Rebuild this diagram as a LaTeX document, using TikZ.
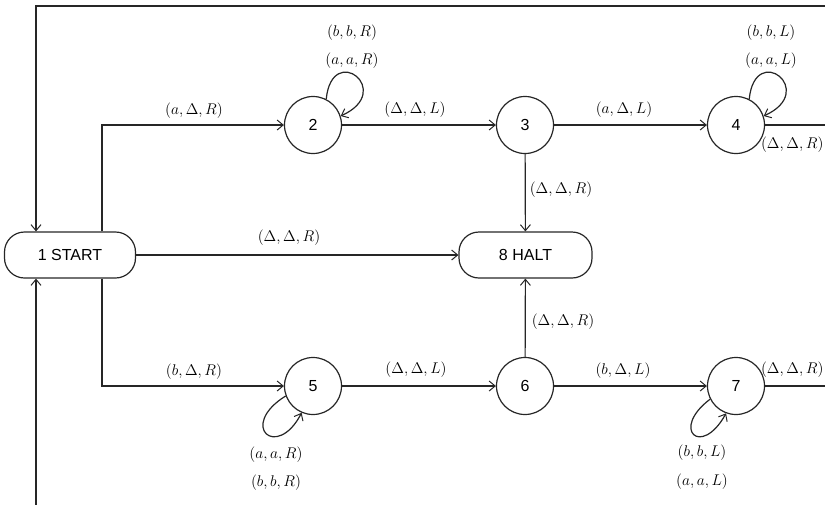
\RequirePackage{fix-cm}
\documentclass[tikz,border=0pt]{standalone}
\usepackage{fontspec}
\setsansfont{Liberation Sans}
\usetikzlibrary{arrows.meta}
\begin{document}
\begin{tikzpicture}[x=1pt,y=-1pt,
  line width=1.2pt, draw=black!85,
  arr/.style={-{Straight Barb[length=6pt,width=10pt,line width=1pt]}},
  state/.style={circle,draw,minimum size=57pt,inner sep=0pt,font=\sffamily\fontsize{16}{18}\selectfont},
  term/.style={rectangle,draw,rounded corners=20pt,minimum height=46pt,inner sep=0pt,font=\sffamily\fontsize{16}{18}\selectfont},
  lbl/.style={inner sep=0pt,font=\fontsize{15.5}{17}\selectfont}]
\useasboundingbox (0,0) rectangle (825,504);
% nodes
\node[term,minimum width=131pt] (start) at (70,255) {1 START};
\node[term,minimum width=133pt] (halt) at (525.5,255) {8 HALT};
\node[state] (s2) at (313,125) {2};
\node[state] (s3) at (525,125) {3};
\node[state] (s4) at (736,125) {4};
\node[state] (s5) at (313,386) {5};
\node[state] (s6) at (525,386) {6};
\node[state] (s7) at (736,386) {7};
\coordinate (r4) at (845,125);
\coordinate (r7) at (845,386);
\coordinate (tr) at (845,6);
\coordinate (bl) at (36,520);
% connectors
\draw[arr] ([xshift=32pt]start.north) |- (s2);
\draw[arr] ([xshift=32pt]start.south) |- (s5);
\draw[arr] (start.east) -- (halt.west);
\draw[arr] (s2) -- (s3);
\draw[arr] (s3) -- (s4);
\draw[arr] (s3) -- (halt);
\draw[arr] (s6) -- (halt);
\draw[arr] (s5) -- (s6);
\draw[arr] (s6) -- (s7);
\draw (s4.east) -- (r4);
\draw (s7.east) -- (r7);
\draw[arr] (tr) -| ([xshift=-34pt]start.north);
\draw[arr] (bl) -- ([xshift=-34pt]start.south);
% self loops
\draw[arr] (s2.63) .. controls +(6,-58) and +(55,-25) .. (s2.18);
\draw[arr] (s4.63) .. controls +(6,-58) and +(55,-25) .. (s4.18);
\draw[arr] (s5.200) .. controls +(-48,30) and +(-25,48) .. (s5.247);
\draw[arr] (s7.207) .. controls +(-40,30) and +(-25,45) .. (s7.250);
% labels
\node[lbl] (l12) at (194,111) {$(a,\Delta,R)$};
\node[lbl] (l22a) at (352,33) {$(b,b,R)$};
\node[lbl] (l22b) at (352,61) {$(a,a,R)$};
\node[lbl] (l23) at (415,110) {$(\Delta,\Delta,L)$};
\node[lbl] (l34) at (624,110) {$(a,\Delta,L)$};
\node[lbl] (l44a) at (771,33) {$(b,b,L)$};
\node[lbl] (l44b) at (771,61) {$(a,a,L)$};
\node[lbl,anchor=east] (l4r) at (824,145) {$(\Delta,\Delta,R)$};
\node[lbl] (l38) at (561,190) {$(\Delta,\Delta,R)$};
\node[lbl] (l18) at (289,238) {$(\Delta,\Delta,R)$};
\node[lbl] (l68) at (563,322) {$(\Delta,\Delta,R)$};
\node[lbl] (l15) at (194,372) {$(b,\Delta,R)$};
\node[lbl] (l56) at (416,370) {$(\Delta,\Delta,L)$};
\node[lbl] (l67) at (623,371) {$(b,\Delta,L)$};
\node[lbl,anchor=east] (l7r) at (824,370) {$(\Delta,\Delta,R)$};
\node[lbl] (l55a) at (276,455) {$(a,a,R)$};
\node[lbl] (l55b) at (276,483) {$(b,b,R)$};
\node[lbl] (l77a) at (702,453) {$(b,b,L)$};
\node[lbl] (l77b) at (702,482) {$(a,a,L)$};
\end{tikzpicture}
\end{document}
